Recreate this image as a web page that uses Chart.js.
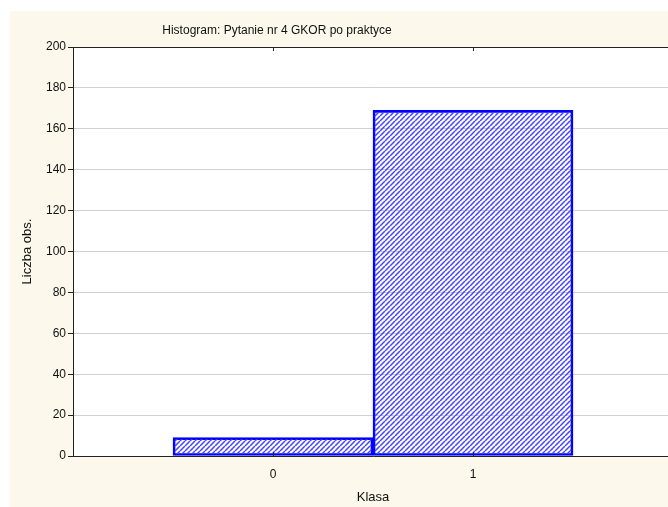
<!DOCTYPE html>
<html>
<head>
<meta charset="utf-8">
<script src="https://cdn.jsdelivr.net/npm/chart.js@4.4.1/dist/chart.umd.min.js"></script>
<style>
    html, body { margin: 0; padding: 0; background: #fff; overflow: hidden; }
    #wrap { position: absolute; left: 10px; top: 11px; width: 690px; height: 496px; }
</style>
</head>
<body>
<div id="wrap"><canvas id="histChart" width="690" height="496"></canvas></div>
<script>
// dane histogramu
var klasy = [0, 1];
var liczbaObs = [9, 169];
var yMax = 200;
var yKrok = 20;
var tytul = 'Histogram: Pytanie nr 4 GKOR po praktyce';

var czcionka = "'Liberation Sans', Arial, sans-serif";

// wzor kreskowania (ukosne linie /), rysowany kreskami
function kreskowanie() {
    var n = 5;
    var c = document.createElement('canvas');
    c.width = n; c.height = n;
    var g = c.getContext('2d');
    g.strokeStyle = '#4444ff';
    g.lineWidth = 1.5;
    g.beginPath();
    for (var k = -n; k <= 2 * n; k += n) {
        g.moveTo(k, n);
        g.lineTo(k + n, 0);
    }
    g.stroke();
    return g.createPattern(c, 'repeat');
}

var tlo = {
    id: 'tlo',
    beforeDraw: function (chart) {
        var ctx = chart.ctx, a = chart.chartArea;
        ctx.save();
        ctx.fillStyle = '#fdf8ec';
        ctx.fillRect(0, 0, chart.width, chart.height);
        ctx.fillStyle = '#ffffff';
        ctx.fillRect(a.left, a.top, a.right - a.left, a.bottom - a.top);
        ctx.restore();
    },
    afterDraw: function (chart) {
        var ctx = chart.ctx, a = chart.chartArea, sx = chart.scales.x;
        ctx.save();
        ctx.strokeStyle = '#222';
        ctx.lineWidth = 1;
        ctx.beginPath();
        ctx.moveTo(a.left, a.top + 0.5);
        ctx.lineTo(a.right, a.top + 0.5);
        klasy.forEach(function (k) {
            var px = Math.round(sx.getPixelForValue(k)) + 0.5;
            ctx.moveTo(px, a.top);
            ctx.lineTo(px, a.top + 4);
            ctx.moveTo(px, a.bottom);
            ctx.lineTo(px, a.bottom - 4);
        });
        ctx.stroke();
        // tytul
        ctx.fillStyle = '#111';
        ctx.font = '12px ' + czcionka;
        ctx.textAlign = 'center';
        ctx.textBaseline = 'middle';
        ctx.fillText(tytul, 267, 20);
        ctx.restore();
    }
};

document.addEventListener('DOMContentLoaded', function () {
    var ctx = document.getElementById('histChart').getContext('2d');
    var punkty = klasy.map(function (k, i) { return { x: k, y: liczbaObs[i] }; });

    new Chart(ctx, {
        type: 'bar',
        data: {
            datasets: [{
                label: 'Liczba obs.',
                data: punkty,
                backgroundColor: kreskowanie(),
                borderColor: '#0000ff',
                borderWidth: 2,
                borderSkipped: false,
                barPercentage: 1,
                categoryPercentage: 1
            }]
        },
        options: {
            responsive: false,
            animation: false,
            devicePixelRatio: 1,
            layout: { padding: { top: 36, right: 27, left: 0, bottom: 0 } },
            plugins: {
                legend: { display: false },
                tooltip: { enabled: false },
                title: { display: false }
            },
            scales: {
                x: {
                    type: 'linear',
                    offset: false,
                    min: -1,
                    max: 2,
                    grid: { display: false },
                    border: { color: '#222' },
                    ticks: {
                        stepSize: 1,
                        color: '#111',
                        padding: 3,
                        font: { size: 12, family: czcionka },
                        callback: function (v) { return klasy.indexOf(v) >= 0 ? String(v) : ''; }
                    },
                    title: {
                        display: true,
                        text: 'Klasa',
                        color: '#111',
                        font: { size: 13, family: czcionka },
                        padding: { top: 4, bottom: 2 }
                    },
                    afterFit: function (s) { s.height = 51; }
                },
                y: {
                    min: 0,
                    max: yMax,
                    grid: { color: '#d0d0d0', tickColor: '#222', tickLength: 5 },
                    border: { color: '#222' },
                    ticks: {
                        stepSize: yKrok,
                        color: '#111',
                        padding: 2,
                        font: { size: 12, family: czcionka }
                    },
                    title: {
                        display: true,
                        text: 'Liczba obs.',
                        color: '#111',
                        font: { size: 13, family: czcionka },
                        padding: { top: 10, bottom: 4 }
                    },
                    afterFit: function (s) { s.width = 63; }
                }
            }
        },
        plugins: [tlo]
    });
});
</script>
</body>
</html>
